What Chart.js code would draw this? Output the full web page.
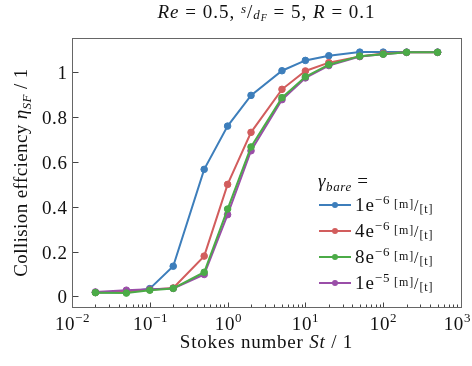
<!DOCTYPE html>
<html>
<head>
<meta charset="utf-8">
<script src="https://cdn.jsdelivr.net/npm/chart.js@4/dist/chart.umd.min.js"></script>
<style>
    html, body { margin: 0; padding: 0; background: #ffffff; }
    #wrap { width: 472px; height: 366px; position: relative; }
</style>
</head>
<body>
<div id="wrap"><canvas id="chart"></canvas></div>
<script>
"use strict";

// Stokes numbers at which the collision efficiency was computed
const stokes = [0.02, 0.05, 0.1, 0.2, 0.5, 1, 2, 5, 10, 20, 50, 100, 200, 500];

// Collision efficiency per bare growth rate
const eta1e6 = [0.018, 0.02, 0.035, 0.135, 0.567, 0.76, 0.897, 1.007, 1.053, 1.074, 1.09, 1.09, 1.09, 1.09];
const eta4e6 = [0.018, 0.022, 0.03, 0.038, 0.18, 0.50, 0.732, 0.924, 1.006, 1.043, 1.071, 1.084, 1.089, 1.089];
const eta8e6 = [0.017, 0.015, 0.028, 0.036, 0.108, 0.39, 0.667, 0.887, 0.98, 1.034, 1.072, 1.081, 1.089, 1.089];
const eta1e5 = [0.02, 0.028, 0.032, 0.036, 0.098, 0.365, 0.65, 0.878, 0.975, 1.03, 1.07, 1.081, 1.089, 1.089];

const seriesExp = ["\u22126", "\u22126", "\u22126", "\u22125"];
const seriesMant = ["1e", "4e", "8e", "1e"];
const colors = ["#3d7ebb", "#d25d5d", "#4bab47", "#9a4ea8"];

const yTicks = [0, 0.2, 0.4, 0.6, 0.8, 1];
const yTickLabels = ["0", "0.2", "0.4", "0.6", "0.8", "1"];
const xDecades = [-2, -1, 0, 1, 2, 3];

const serif = "\"Liberation Serif\", serif";
const fs = 19;
const sup = 13;

function font(size, italic) {
    return (italic ? "italic " : "") + size + "px " + serif;
}

// Width of a run list, with the same letter spacing used to draw it
function measureRuns(ctx, runs, spacing) {
    ctx.letterSpacing = spacing + "px";
    let width = 0;
    runs.forEach((r) => {
        ctx.font = font(r.size, r.italic);
        width += ctx.measureText(r.t).width;
    });
    return width;
}

// Draw a line of mixed text: runs of {t, size, italic, dy}
function drawRuns(ctx, runs, x, y, align, spacing) {
    spacing = spacing === undefined ? 0.6 : spacing;
    const width = measureRuns(ctx, runs, spacing);
    let cx = align === "center" ? x - width / 2 : align === "right" ? x - width : x;
    // keep labels inside the canvas
    cx = Math.min(cx, ctx.canvas.width - width - 1);
    ctx.textAlign = "left";
    ctx.textBaseline = "alphabetic";
    runs.forEach((r) => {
        ctx.font = font(r.size, r.italic);
        ctx.fillText(r.t, cx, y + (r.dy || 0));
        cx += ctx.measureText(r.t).width;
    });
    ctx.letterSpacing = "0px";
    return width;
}

// Frame, inward ticks, tick labels, titles and legend
const decorations = {
    id: "decorations",
    afterDraw(chart) {
        const ctx = chart.ctx;
        const area = chart.chartArea;
        const xs = chart.scales.x;
        const ys = chart.scales.y;
        const left = Math.round(area.left) + 0.5;
        const right = Math.round(area.right) + 0.5;
        const top = Math.round(area.top) + 0.5;
        const bottom = Math.round(area.bottom) + 0.5;

        ctx.save();
        ctx.fillStyle = "#111111";
        ctx.strokeStyle = "#444444";
        ctx.lineWidth = 1;

        // y ticks
        yTicks.forEach((v, i) => {
            const py = Math.round(ys.getPixelForValue(v)) + 0.5;
            ctx.beginPath();
            ctx.moveTo(left, py);
            ctx.lineTo(left + 6, py);
            ctx.stroke();
            drawRuns(ctx, [{ t: yTickLabels[i], size: fs }], left - 5, py + 6.5, "right");
        });

        // x ticks, major and minor
        xDecades.forEach((d) => {
            const px = Math.round(xs.getPixelForValue(Math.pow(10, d))) + 0.5;
            ctx.beginPath();
            ctx.moveTo(px, bottom);
            ctx.lineTo(px, bottom - 5);
            ctx.stroke();
            drawRuns(ctx, [
                { t: "10", size: fs },
                { t: d < 0 ? "\u2212" + (-d) : String(d), size: sup, dy: -8 }
            ], px, bottom + 22, "center");
            if (d < 3) {
                for (let m = 2; m <= 9; m++) {
                    const mx = Math.round(xs.getPixelForValue(m * Math.pow(10, d))) + 0.5;
                    ctx.beginPath();
                    ctx.moveTo(mx, bottom);
                    ctx.lineTo(mx, bottom - 3);
                    ctx.stroke();
                }
            }
        });

        // frame
        ctx.strokeStyle = "#666666";
        ctx.strokeRect(left, top, right - left, bottom - top);

        const midX = (area.left + area.right) / 2;

        // title
        drawRuns(ctx, [
            { t: "Re", size: fs, italic: true },
            { t: " = 0.5, ", size: fs },
            { t: "s", size: sup, italic: true, dy: -5 },
            { t: "/", size: fs },
            { t: "d", size: sup, italic: true, dy: 1 },
            { t: "F", size: 10, italic: true, dy: 3 },
            { t: " = 5, ", size: fs },
            { t: "R", size: fs, italic: true },
            { t: " = 0.1", size: fs }
        ], midX, 18, "center", 1);

        // x title
        drawRuns(ctx, [
            { t: "Stokes number ", size: fs },
            { t: "St", size: fs, italic: true },
            { t: " / 1", size: fs }
        ], midX, 348, "center", 0.8);

        // y title, rotated
        ctx.save();
        ctx.translate(27, (area.top + area.bottom) / 2);
        ctx.rotate(-Math.PI / 2);
        drawRuns(ctx, [
            { t: "Collision effciency ", size: fs },
            { t: "\u03b7", size: fs, italic: true },
            { t: "SF", size: sup, italic: true, dy: 4 },
            { t: " / 1", size: fs }
        ], 0, 0, "center", 0.4);
        ctx.restore();

        // legend
        drawRuns(ctx, [
            { t: "\u03b3", size: fs, italic: true },
            { t: "bare", size: sup, italic: true, dy: 4 },
            { t: " =", size: fs }
        ], 318, 187, "left", 0.6);

        chart.data.datasets.forEach((ds, i) => {
            const ly = 205 + i * 26;
            ctx.strokeStyle = ds.borderColor;
            ctx.fillStyle = ds.borderColor;
            ctx.lineWidth = 2;
            ctx.beginPath();
            ctx.moveTo(319, ly);
            ctx.lineTo(351, ly);
            ctx.stroke();
            ctx.beginPath();
            ctx.arc(335, ly, 3, 0, Math.PI * 2);
            ctx.fill();
            ctx.fillStyle = "#111111";
            drawRuns(ctx, [
                { t: seriesMant[i], size: fs },
                { t: seriesExp[i], size: sup, dy: -7 },
                { t: " ", size: 11 },
                { t: "[m]", size: 12, dy: -3 },
                { t: "/", size: 16 },
                { t: "[t]", size: 12, dy: 2 }
            ], 355, ly + 6, "left", 0.9);
        });

        ctx.restore();
    }
};

const datasets = [eta1e6, eta4e6, eta8e6, eta1e5].map((values, i) => ({
    label: seriesMant[i] + seriesExp[i],
    data: stokes.map((s, j) => ({ x: s, y: values[j] })),
    borderColor: colors[i],
    backgroundColor: colors[i],
    pointBackgroundColor: colors[i],
    pointBorderColor: colors[i],
    borderWidth: 2,
    pointRadius: 3.3,
    pointBorderWidth: 1,
    tension: 0,
    order: [3, 2, 0, 1][i]
}));

new Chart(document.getElementById("chart"), {
    type: "line",
    data: { datasets: datasets },
    options: {
        responsive: true,
        maintainAspectRatio: false,
        animation: false,
        layout: {
            padding: { left: 72, top: 38, right: 11, bottom: 59 }
        },
        scales: {
            x: { type: "logarithmic", min: 0.01, max: 1000, display: false },
            y: { type: "linear", min: -0.047, max: 1.153, display: false }
        },
        plugins: {
            legend: { display: false },
            tooltip: { enabled: false }
        }
    },
    plugins: [decorations]
});
</script>
</body>
</html>
